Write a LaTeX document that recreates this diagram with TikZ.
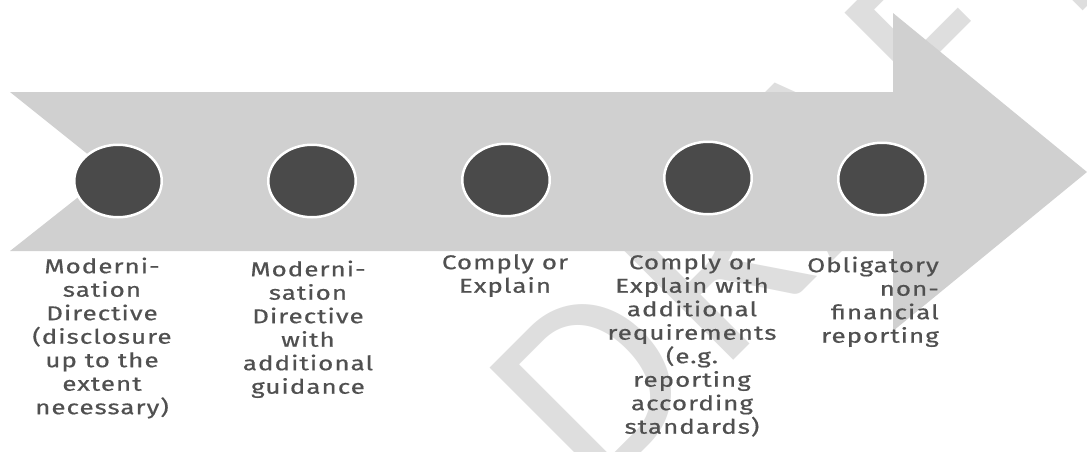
\documentclass[tikz,border=0pt]{standalone}
\usepackage{fontspec}
\setmainfont{Fira Sans}[FakeStretch=1.3,LetterSpace=5,FakeBold=0.6]
\newfontfamily\wmfont{Carlito}
\usetikzlibrary{shapes.geometric}
\definecolor{arrowgray}{HTML}{D0D0D0}
\definecolor{dotgray}{HTML}{4A4A4A}
\definecolor{txtgray}{HTML}{505050}
\definecolor{wmgray}{HTML}{DEDEDE}
\newcommand{\firststrut}{\rule{0pt}{16pt}}
\newcommand{\wmgap}{\kern17pt}
\begin{document}
\begin{tikzpicture}[x=1pt,y=-1pt,
  dot/.style={ellipse, draw=white, line width=2.5pt, fill=dotgray,
    minimum width=87.5pt, minimum height=72.5pt, inner sep=0pt},
  lbl/.style={text=txtgray, font=\fontsize{20}{23.5}\selectfont,
    align=center, anchor=north, inner sep=0pt},
  arrowshape/.style={fill=arrowgray}]
\useasboundingbox (0,0) rectangle (1087,451);
\clip (0,0) rectangle (1087,451);
% watermark
\node[text=wmgray, font=\wmfont\fontsize{260}{260}\selectfont, rotate=45,
  anchor=base west, inner sep=0pt] (wm) at (595,499)
  {D\wmgap R\wmgap A\wmgap F\wmgap T};
% arrow
\coordinate (tl) at (10,92);
\coordinate (bl) at (10,251);
\coordinate (notch) at (110,172);
\coordinate (tip) at (1087,172);
\fill[arrowshape] (tl) -- (893,92) -- (893,13) -- (tip) -- (893,331)
  -- (893,251) -- (bl) -- (notch) -- cycle;
% dots
\node[dot] (d1) at (118,181) {};
\node[dot] (d2) at (312,181) {};
\node[dot] (d3) at (506,180) {};
\node[dot] (d4) at (708,178) {};
\node[dot] (d5) at (882,179) {};
% labels (first baselines at 273, 276, 269, 269, 272)
\node[lbl] (l1) at (102,257) {\firststrut Moderni-\\sation\\Directive\\(disclosure\\up to the\\extent\\necessary)};
\node[lbl] (l2) at (308,260) {\firststrut Moderni-\\sation\\Directive\\with\\additional\\guidance};
\node[lbl] (l3) at (505,253) {\firststrut Comply or\\Explain};
\node[lbl] (l4) at (692,253) {\firststrut Comply or\\Explain with\\additional\\requirements\\(e.g.\\reporting\\according\\standards)};
\node[lbl, align=right, anchor=north east] (l5) at (939,256) {\firststrut Obligatory\\non-\\financial\\reporting};
\end{tikzpicture}
\end{document}
